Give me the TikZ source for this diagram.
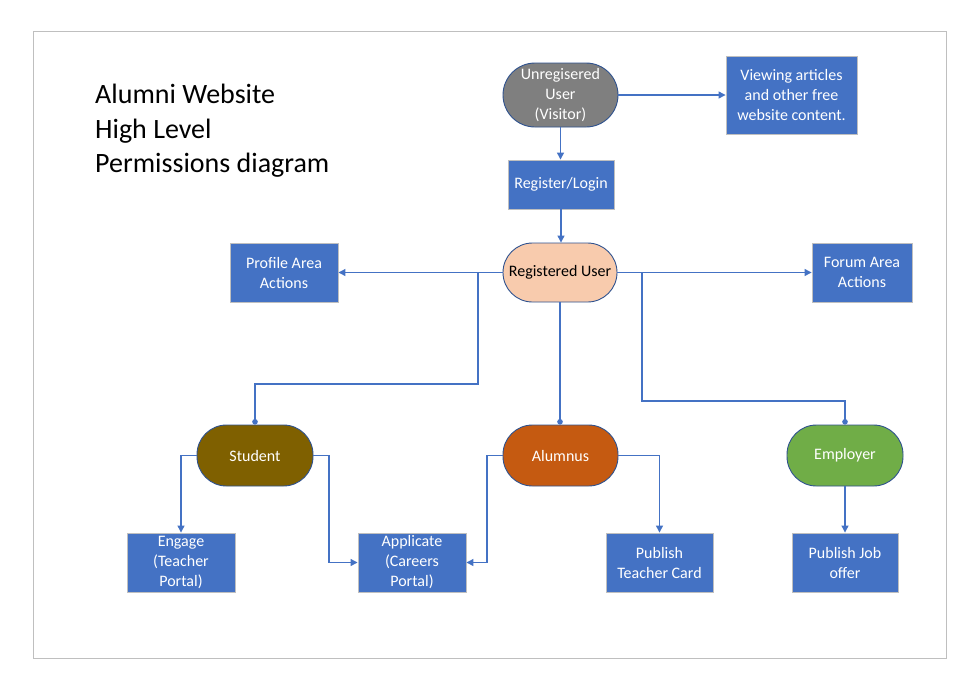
\documentclass[tikz,border=0pt]{standalone}
\usepackage{fontspec}
\setmainfont{Carlito}
\usetikzlibrary{arrows.meta}
\definecolor{boxblue}{HTML}{4472C4}
\definecolor{pillborder}{HTML}{2F528F}
\definecolor{boxborder}{HTML}{BFBFBF}
\definecolor{visitor}{HTML}{7F7F7F}
\definecolor{reguser}{HTML}{F8CBAD}
\definecolor{student}{HTML}{7F6000}
\definecolor{alumnus}{HTML}{C55A11}
\definecolor{employer}{HTML}{70AD47}
\tikzset{
  boxnode/.style={draw=boxborder, line width=0.9pt, fill=boxblue, text=white, align=center,
    font=\fontsize{16}{20}\selectfont, inner sep=0pt},
  pillnode/.style={draw=pillborder, line width=0.9pt, text=white, align=center,
    font=\fontsize{16}{20}\selectfont, inner sep=0pt, rounded corners=29.5pt},
  conn/.style={draw=boxblue, line width=1.2pt, -{Triangle[length=7pt,width=7pt]}},
  dotconn/.style={draw=boxblue, line width=1.2pt, -{Circle[length=5.5pt]}},
}
\begin{document}
\begin{tikzpicture}[x=1pt,y=-1pt]
\useasboundingbox (0,0) rectangle (976,689);
\fill[white] (0,0) rectangle (976,689);
\draw[boxborder, line width=1pt] (33,31) rectangle (946,658);

\node[anchor=north west, align=left, font=\fontsize{28}{34.5}\selectfont, inner sep=0pt] (title) at (95,84)
  {Alumni Website\\High Level\\Permissions diagram};

\node[pillnode, fill=visitor, minimum width=115pt, minimum height=64pt, rounded corners=32pt] (unreg) at (560.5,95) {Unregisered\\User\\(Visitor)};
\node[boxnode, minimum width=131pt, minimum height=78pt] (view) at (791.5,95) {Viewing articles\\and other free\\website content.};
\node[boxnode, minimum width=106pt, minimum height=49pt] (login) at (561,184.5) {Register/Login};
\node[pillnode, fill=reguser, text=black, minimum width=114pt, minimum height=59pt] (reg) at (560,272.5) {Registered User};
\node[boxnode, minimum width=108pt, minimum height=59pt] (profile) at (284,272.5) {Profile Area\\Actions};
\node[boxnode, minimum width=100pt, minimum height=59pt] (forum) at (862,272.5) {Forum Area\\Actions};

\node[pillnode, fill=student, minimum width=116pt, minimum height=61pt] (student) at (255,455.5) {Student};
\node[pillnode, fill=alumnus, minimum width=115pt, minimum height=61pt] (alumnus) at (560.5,455.5) {Alumnus};
\node[pillnode, fill=employer, minimum width=116pt, minimum height=61pt] (employer) at (845,455.5) {Employer};

\node[boxnode, minimum width=108pt, minimum height=59pt] (engage) at (181,562.5) {Engage\\(Teacher\\Portal)};
\node[boxnode, minimum width=108pt, minimum height=59pt] (applicate) at (412,562.5) {Applicate\\(Careers\\Portal)};
\node[boxnode, minimum width=107pt, minimum height=59pt] (teacher) at (659.5,562.5) {Publish\\Teacher Card};
\node[boxnode, minimum width=106pt, minimum height=59pt] (job) at (845,562.5) {Publish Job\\offer};

\coordinate (sbranch) at (478,272.5);
\coordinate (ebranch) at (642,272.5);

\draw[conn] (unreg.east) -- (view.west |- unreg.east);
\draw[conn] (unreg.south) -- (login.north -| unreg.south);
\draw[conn] (login.south) -- (reg.north -| login.south);
\draw[conn] (reg.west) -- (profile.east);
\draw[conn] (reg.east) -- (forum.west);
\draw[dotconn] (sbranch) -- (478,384) -| (student.north);
\draw[dotconn] (reg.south) -- (alumnus.north -| reg.south);
\draw[dotconn] (ebranch) -- (642,401) -| (employer.north);

\draw[conn] (student.west) -- (181,455.5) -- (engage.north);
\draw[conn] (student.east) -- (329,455.5) |- (applicate.west);
\draw[conn] (alumnus.west) -- (487,455.5) |- (applicate.east);
\draw[conn] (alumnus.east) -| (teacher.north);
\draw[conn] (employer.south) -- (job.north);
\end{tikzpicture}
\end{document}
